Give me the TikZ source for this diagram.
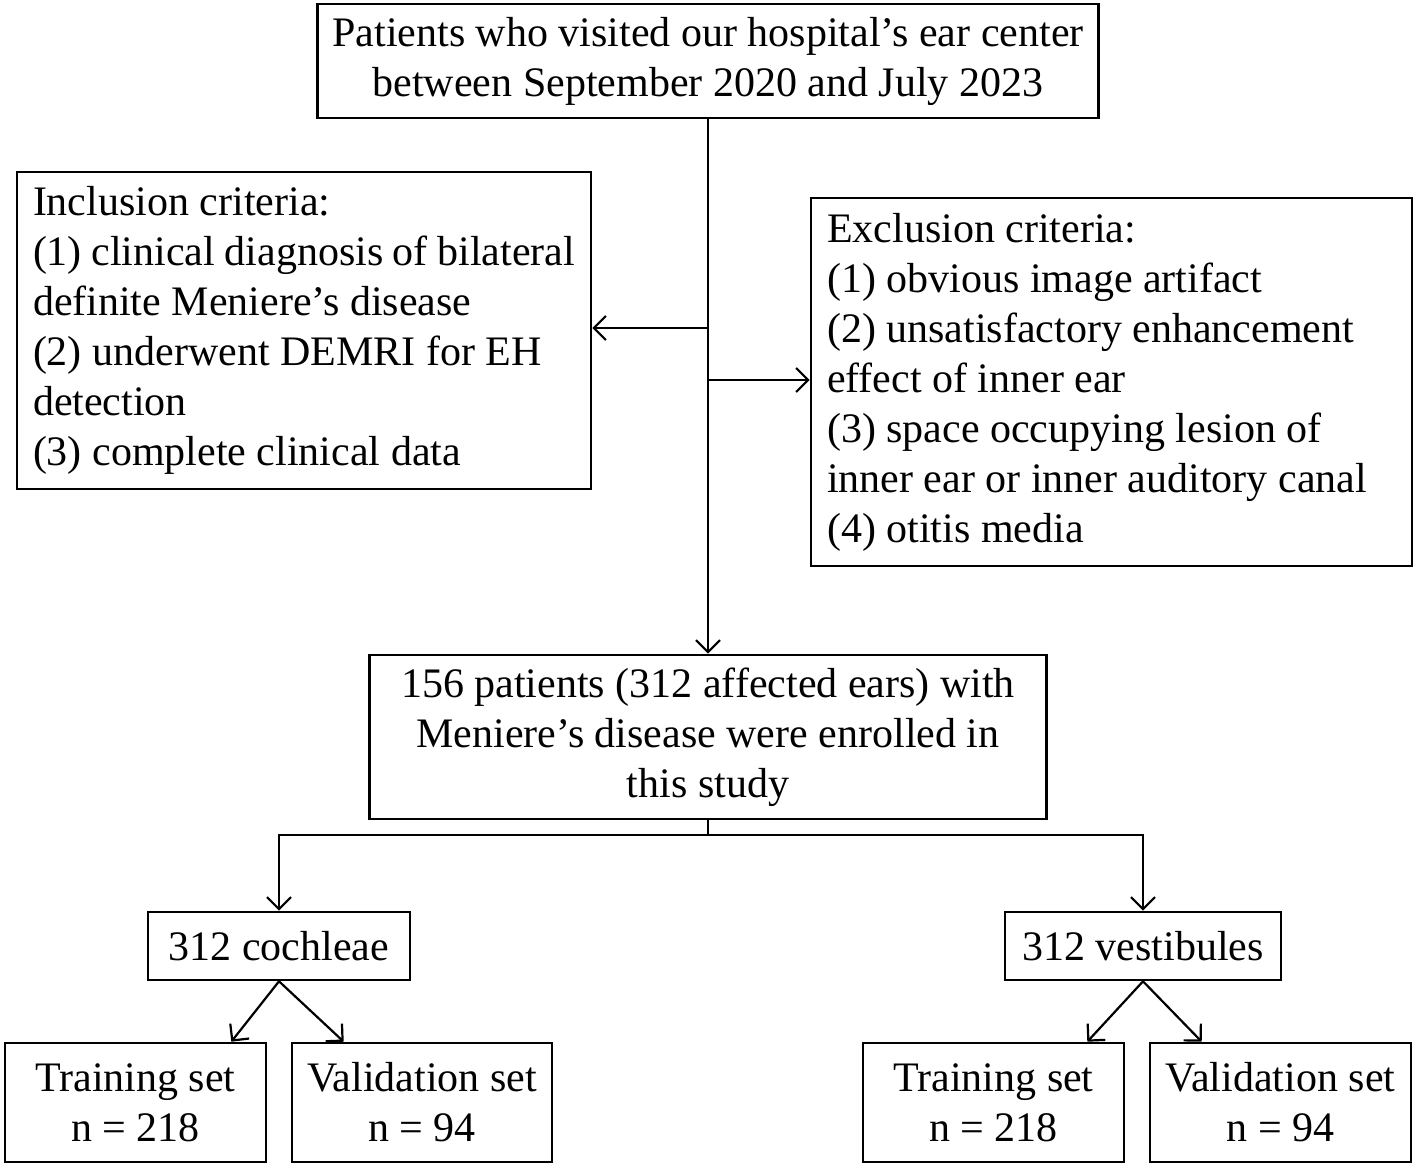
\documentclass[tikz,border=0pt]{standalone}
\usepackage{fontspec}
\setmainfont{Liberation Serif}
\usetikzlibrary{arrows.meta}
\begin{document}
\begin{tikzpicture}[x=0.5pt,y=-0.5pt,
 box/.style={draw, line width=1.3pt, inner sep=0pt, font=\fontsize{21}{25}\selectfont, align=center},
 lbox/.style={box, align=flush left, inner xsep=8pt},
 arr/.style={line width=1.1pt, -{Straight Barb[length=6pt,width=12pt,line width=1.1pt]}},
 ln/.style={line width=1.1pt}]
\useasboundingbox (0,0) rectangle (1416,1166);
\node[box, minimum width=390.5pt, minimum height=57pt] (top) at (708,61)
  {Patients who visited our hospital’s ear center\\between September 2020 and July 2023};
\node[lbox, text width=271pt, minimum height=158.5pt] (incl) at (304,330.5)
  {Inclusion criteria:\\(1) clinical diagnosis of bilateral\\definite Meniere’s disease\\(2) underwent DEMRI for EH\\detection\\(3) complete clinical data};
\node[lbox, text width=284.5pt, minimum height=184pt] (excl) at (1111.5,382)
  {Exclusion criteria:\\(1) obvious image artifact\\(2) unsatisfactory enhancement\\effect of inner ear\\(3) space occupying lesion of\\inner ear or inner auditory canal\\(4) otitis media};
\node[box, minimum width=338.5pt, minimum height=82pt] (mid) at (708,737)
  {156 patients (312 affected ears) with\\Meniere’s disease were enrolled in\\this study};
\node[box, minimum width=131pt, minimum height=34pt] (coch) at (279,946) {312 cochleae};
\node[box, minimum width=138pt, minimum height=34pt] (vest) at (1143,946) {312 vestibules};
\node[box, minimum width=130.5pt, minimum height=59.5pt] (trL) at (135.5,1102.5) {Training set\\n = 218};
\node[box, minimum width=130pt, minimum height=59.5pt] (vaL) at (422,1102.5) {Validation set\\n = 94};
\node[box, minimum width=130.5pt, minimum height=59.5pt] (trR) at (993.5,1102.5) {Training set\\n = 218};
\node[box, minimum width=130.5pt, minimum height=59.5pt] (vaR) at (1280.5,1102.5) {Validation set\\n = 94};
\coordinate (jl) at (708,328);
\coordinate (jr) at (708,380);
\coordinate (sp) at (708,835);
\draw[arr] (top.south) -- (mid.north);
\draw[arr] (jl) -- (incl.east |- jl);
\draw[arr] (jr) -- (excl.west |- jr);
\draw[ln] (mid.south) -- (sp);
\draw[arr] (sp) -| (coch.north);
\draw[arr] (sp) -| (vest.north);
\draw[arr] (coch.south) -- ([xshift=-18pt]trL.north east);
\draw[arr] (coch.south) -- ([xshift=26.5pt]vaL.north west);
\draw[arr] (vest.south) -- ([xshift=-19pt]trR.north east);
\draw[arr] (vest.south) -- ([xshift=26.5pt]vaR.north west);
\end{tikzpicture}
\end{document}
